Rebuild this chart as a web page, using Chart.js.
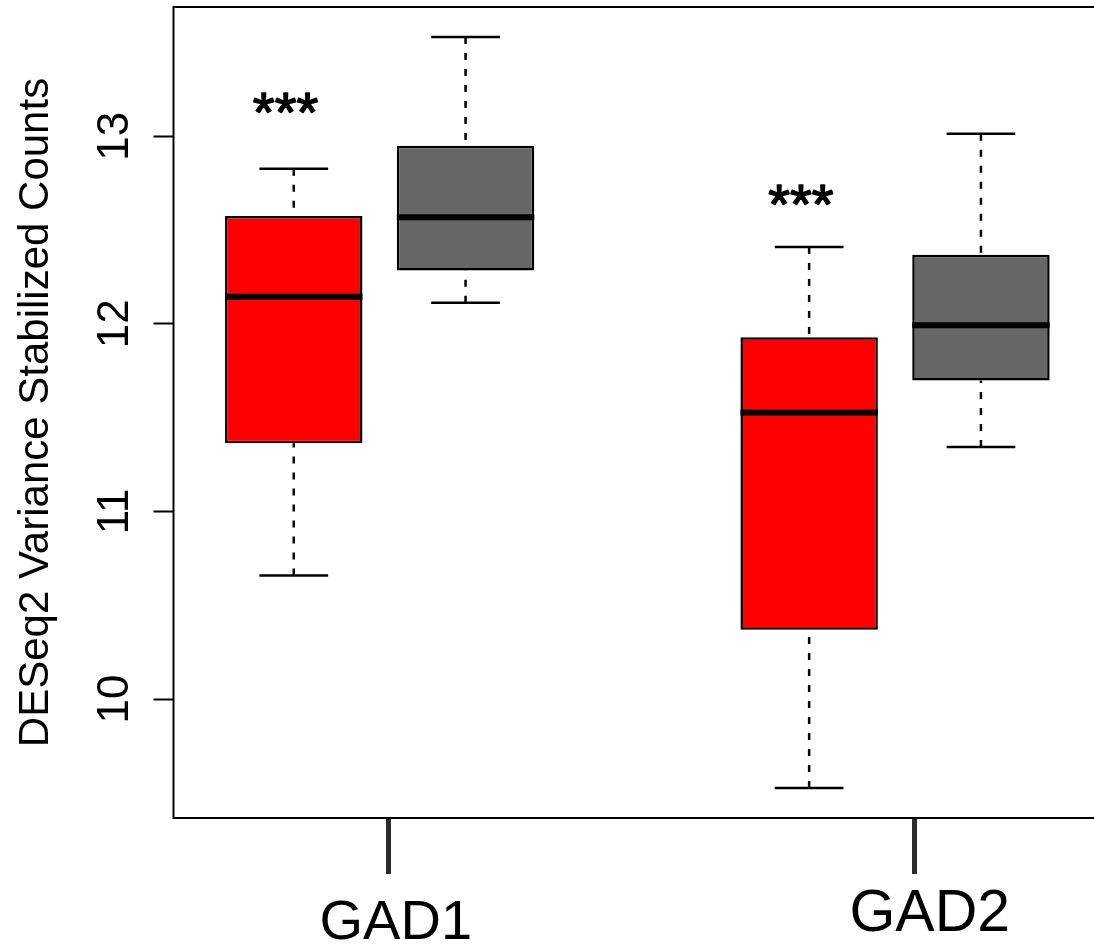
<!DOCTYPE html>
<html>
<head>
<meta charset="utf-8">
<script src="https://cdn.jsdelivr.net/npm/chart.js@4.4.1/dist/chart.umd.min.js"></script>
<style>
  html, body { margin: 0; padding: 0; background: #fff; overflow: hidden; width: 1094px; height: 946px; }
  canvas { display: block; }
</style>
</head>
<body>
<canvas id="c" width="1120" height="946"></canvas>
<script>
// Box positions along x (cases then controls, two genes)
const genes = ['GAD1', 'GAD2'];
const casePos = [1, 4];
const ctrlPos = [2, 5];

// Five-number summaries per gene: lower whisker, Q1, median, Q3, upper whisker
const caseMin = [10.659, 9.526];
const caseQ1  = [11.364, 10.369];
const caseMed = [12.145, 11.527];
const caseQ3  = [12.575, 11.929];
const caseMax = [12.827, 12.410];

const ctrlMin = [12.112, 11.344];
const ctrlQ1  = [12.284, 11.698];
const ctrlMed = [12.568, 11.993];
const ctrlQ3  = [12.950, 12.369];
const ctrlMax = [13.529, 13.013];

const yTicks = [10, 11, 12, 13];

// Gene labels on the x axis and significance marks
const geneTickAt  = [1.553, 4.615];
const geneLabelAt = [1.594, 4.702];
const starText = ['***', '***'];
const starY    = [13.175, 12.685];

// layout / style constants
const FONT = '"Liberation Sans", Helvetica, Arial, sans-serif';
const geneLabelSize = [56, 59];
const geneLabelBase = [939, 931];
const starOffset = -0.05;

const groups = [
  { pos: casePos, min: caseMin, q1: caseQ1, med: caseMed, q3: caseQ3, max: caseMax },
  { pos: ctrlPos, min: ctrlMin, q1: ctrlQ1, med: ctrlMed, q3: ctrlQ3, max: ctrlMax }
];

function seg(ctx, x1, y1, x2, y2) {
  ctx.beginPath(); ctx.moveTo(x1, y1); ctx.lineTo(x2, y2); ctx.stroke();
}

const boxParts = {
  id: 'boxParts',
  beforeDatasetsDraw(chart) {
    const { ctx, scales: { x, y } } = chart;
    ctx.save();
    ctx.strokeStyle = '#000';
    ctx.lineCap = 'butt';
    groups.forEach(g => g.pos.forEach((p, i) => {
      const px = x.getPixelForValue(p);
      const yMin = y.getPixelForValue(g.min[i]);
      const yMax = y.getPixelForValue(g.max[i]);
      // dashed whiskers, drawn from the extremes toward the box
      ctx.lineWidth = 2.5;
      ctx.setLineDash([7, 9]);
      seg(ctx, px, yMin, px, y.getPixelForValue(g.q1[i]));
      seg(ctx, px, yMax, px, y.getPixelForValue(g.q3[i]));
      ctx.setLineDash([]);
      // staples
      ctx.lineWidth = 2.5;
      const sx1 = x.getPixelForValue(p - 0.2), sx2 = x.getPixelForValue(p + 0.2);
      seg(ctx, sx1, yMin, sx2, yMin);
      seg(ctx, sx1, yMax, sx2, yMax);
    }));
    ctx.restore();
  },
  afterDatasetsDraw(chart) {
    const { ctx, scales: { x, y } } = chart;
    ctx.save();
    ctx.strokeStyle = '#000';
    ctx.lineWidth = 6;
    ctx.lineCap = 'butt';
    groups.forEach(g => g.pos.forEach((p, i) => {
      const py = y.getPixelForValue(g.med[i]);
      seg(ctx, x.getPixelForValue(p - 0.4), py, x.getPixelForValue(p + 0.4), py);
    }));
    ctx.restore();
  },
  afterDraw(chart) {
    const { ctx, chartArea: a, scales: { x, y } } = chart;
    ctx.save();
    // plot frame
    ctx.strokeStyle = '#000';
    ctx.lineWidth = 2;
    ctx.strokeRect(a.left, a.top, a.right - a.left, a.bottom - a.top);

    ctx.fillStyle = '#000';
    // y tick labels, rotated parallel to the axis
    ctx.font = '44px ' + FONT;
    ctx.textAlign = 'center';
    ctx.textBaseline = 'alphabetic';
    yTicks.forEach(v => {
      ctx.save();
      ctx.translate(128, y.getPixelForValue(v));
      ctx.rotate(-Math.PI / 2);
      ctx.fillText(String(v), 0, 0);
      ctx.restore();
    });

    // y axis title
    ctx.font = '42px ' + FONT;
    ctx.save();
    ctx.translate(48, (a.top + a.bottom) / 2);
    ctx.rotate(-Math.PI / 2);
    ctx.fillText('DESeq2 Variance Stabilized Counts', 0, 0);
    ctx.restore();

    // gene labels
    genes.forEach((gname, i) => {
      ctx.font = geneLabelSize[i] + 'px ' + FONT;
      ctx.fillText(gname, x.getPixelForValue(geneLabelAt[i]), geneLabelBase[i]);
    });

    // significance stars above the case boxes
    ctx.font = '56px ' + FONT;
    ctx.textAlign = 'left';
    ctx.lineWidth = 1.5;
    ctx.lineJoin = 'round';
    starText.forEach((s, i) => {
      const m = ctx.measureText(s);
      const cx = x.getPixelForValue(casePos[i] + starOffset);
      const cy = y.getPixelForValue(starY[i]);
      const tx = cx - (m.actualBoundingBoxRight - m.actualBoundingBoxLeft) / 2;
      const ty = cy - (m.actualBoundingBoxDescent - m.actualBoundingBoxAscent) / 2;
      ctx.fillText(s, tx, ty);
      ctx.strokeText(s, tx, ty);
    });
    ctx.restore();
  }
};

const toBoxes = (pos, lo, hi) => pos.map((p, i) => ({ x: p, y: [lo[i], hi[i]] }));

new Chart(document.getElementById('c'), {
  type: 'bar',
  data: {
    datasets: [
      {
        label: 'case',
        data: toBoxes(casePos, caseQ1, caseQ3),
        backgroundColor: '#ff0000',
        borderColor: '#000',
        borderWidth: 2.5,
        borderSkipped: false
      },
      {
        label: 'control',
        data: toBoxes(ctrlPos, ctrlQ1, ctrlQ3),
        backgroundColor: '#666666',
        borderColor: '#000',
        borderWidth: 2.5,
        borderSkipped: false
      }
    ]
  },
  options: {
    responsive: false,
    animation: false,
    devicePixelRatio: 1,
    layout: { padding: { top: 7, right: 18.8, left: 0, bottom: 0 } },
    datasets: { bar: { grouped: false, categoryPercentage: 1, barPercentage: 0.8 } },
    plugins: { legend: { display: false }, tooltip: { enabled: false }, title: { display: false } },
    scales: {
      x: {
        type: 'linear',
        min: 0.3,
        max: 5.7,
        offset: false,
        afterBuildTicks: s => { s.ticks = geneTickAt.map(v => ({ value: v })); },
        afterFit: s => { s.height = 128; },
        ticks: { display: false },
        border: { display: false },
        grid: { offset: false, drawOnChartArea: false, drawTicks: true, tickLength: 56, tickWidth: 5, tickColor: '#2b2b2b' }
      },
      y: {
        type: 'linear',
        min: 9.366,
        max: 13.689,
        beginAtZero: false,
        afterBuildTicks: s => { s.ticks = yTicks.map(v => ({ value: v })); },
        afterFit: s => { s.width = 173.5; },
        ticks: { display: false },
        border: { display: false },
        grid: { drawOnChartArea: false, drawTicks: true, tickLength: 20, tickWidth: 2, tickColor: '#000' }
      }
    }
  },
  plugins: [boxParts]
});
</script>
</body>
</html>
